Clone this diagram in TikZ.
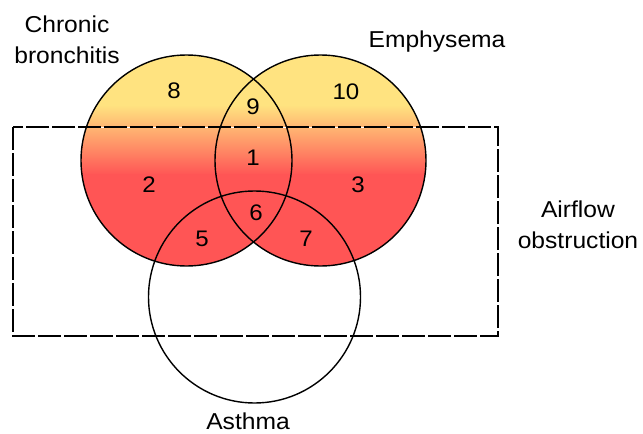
\documentclass[tikz,border=0pt]{standalone}
\usepackage{fontspec}
\setmainfont[FakeStretch=1.07]{Liberation Sans}
\definecolor{vyellow}{RGB}{255,227,128}
\definecolor{vred}{RGB}{255,85,85}
\begin{document}
\begin{tikzpicture}[x=1pt,y=-1pt,
  ring/.style={draw=black, line width=1.4pt},
  num/.style={font=\fontsize{22.5}{26}\selectfont, inner sep=0pt},
  lbl/.style={font=\fontsize{23}{31}\selectfont, align=center, inner sep=0pt}]
\useasboundingbox (0,0) rectangle (643,434);
\coordinate (cb) at (186.5,160.5);
\coordinate (em) at (320.5,160.5);
\coordinate (as) at (254.5,297);
% gradient fill of the two upper circles
\begin{scope}
  \clip (cb) circle (105.5pt) (em) circle (105.5pt);
  \fill[vyellow] (70,50) rectangle (440,106);
  \shade[top color=vyellow, bottom color=vred] (70,105) rectangle (440,175);
  \fill[vred] (70,174) rectangle (440,272);
\end{scope}
% outlines
\draw[ring] (cb) circle (105.5pt);
\draw[ring] (em) circle (105.5pt);
\draw[ring] (as) circle (106pt);
% airflow obstruction box
\draw[white, line width=1pt] (13,127) rectangle (498,336);
\draw[line width=2pt, dash pattern=on 23pt off 3pt] (13,127) rectangle (498,336);
% region numbers
\node[num] (n8) at (174,91) {8};
\node[num] (n9) at (253,106.5) {9};
\node[num] (n10) at (346,91.5) {10};
\node[num] (n1) at (253,157.5) {1};
\node[num] (n2) at (149,185) {2};
\node[num] (n3) at (358,184.5) {3};
\node[num] (n6) at (256,212.5) {6};
\node[num] (n5) at (202,239) {5};
\node[num] (n7) at (306,238.5) {7};
% set labels
\node[lbl] (lcb) at (67,39.5) {Chronic\\bronchitis};
\node[lbl, anchor=base] (lem) at (437,47) {Emphysema};
\node[lbl] (lao) at (578,225) {Airflow\\obstruction};
\node[lbl, anchor=base] (las) at (248,429.5) {Asthma};
\end{tikzpicture}
\end{document}
